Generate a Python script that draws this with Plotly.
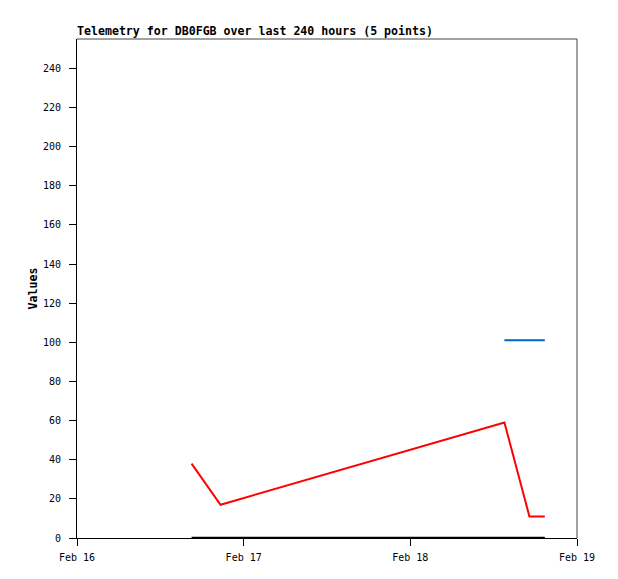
import plotly.graph_objects as go

times = ["2025-02-16 16:30", "2025-02-16 20:40", "2025-02-18 13:33",
         "2025-02-18 17:09", "2025-02-18 19:22"]
red_values = [38, 17, 59, 11, 11]
blue_values = [None, None, 101, 101, 101]
black_values = [0, 0, 0, 0, 0]

y_ticks = list(range(0, 241, 20))
x_ticks = ["2025-02-16", "2025-02-17", "2025-02-18", "2025-02-19"]
x_tick_labels = ["Feb 16", "Feb 17", "Feb 18", "Feb 19"]

W, H = 618, 579
OFF = 8  # page body margin
L, R, T, B = 77 - OFF, 577 - OFF, 38.5 - OFF, 538.3 - OFF

fig = go.Figure()
fig.add_trace(go.Scatter(x=times, y=red_values, mode="lines",
                         line=dict(color="#ff0000", width=2), showlegend=False))
fig.add_trace(go.Scatter(x=times, y=blue_values, mode="lines",
                         line=dict(color="#0066cc", width=2), showlegend=False))
fig.add_trace(go.Scatter(x=times, y=black_values, mode="lines",
                         line=dict(color="#000000", width=2.5), showlegend=False,
                         cliponaxis=False))

mono = "DejaVu Sans Mono"
fig.update_layout(
    width=W, height=H,
    margin=dict(l=L, r=W - R, t=T, b=H - B, pad=0),
    paper_bgcolor="white", plot_bgcolor="white",
    title=dict(text="<b>Telemetry for DB0FGB over last 240 hours (5 points)</b>",
               font=dict(family=mono, size=11.6, color="black"),
               xref="container", yref="container",
               x=L / W, xanchor="left", y=1 - (31 - OFF) / H, yanchor="middle"),
    xaxis=dict(type="date", range=["2025-02-16", "2025-02-19"],
               tickvals=x_ticks, ticktext=x_tick_labels,
               showgrid=False, zeroline=False,
               showline=True, linecolor="black", linewidth=1,
               ticks="outside", ticklen=7, tickcolor="black", tickwidth=1,
               ticklabelstandoff=3,
               tickfont=dict(family=mono, size=10, color="black")),
    yaxis=dict(range=[0, 255], tickvals=y_ticks,
               showgrid=False, zeroline=False,
               showline=True, linecolor="black", linewidth=1,
               ticks="outside", ticklen=7, tickcolor="black", tickwidth=1,
               ticklabelstandoff=6,
               tickfont=dict(family=mono, size=10, color="black")),
    annotations=[
        dict(text="<b>Values</b>", textangle=-90, showarrow=False,
             xref="paper", yref="paper",
             x=(32 - 77) / 500, y=0.5, xanchor="center", yanchor="middle",
             font=dict(family=mono, size=11.6, color="black")),
    ],
    shapes=[
        dict(type="line", xref="paper", yref="paper", x0=0, x1=1, y0=1, y1=1,
             line=dict(color="#444444", width=1)),
        dict(type="line", xref="paper", yref="paper", x0=1, x1=1, y0=0, y1=1,
             line=dict(color="#444444", width=1)),
    ],
)

fig.write_html("out.html")
